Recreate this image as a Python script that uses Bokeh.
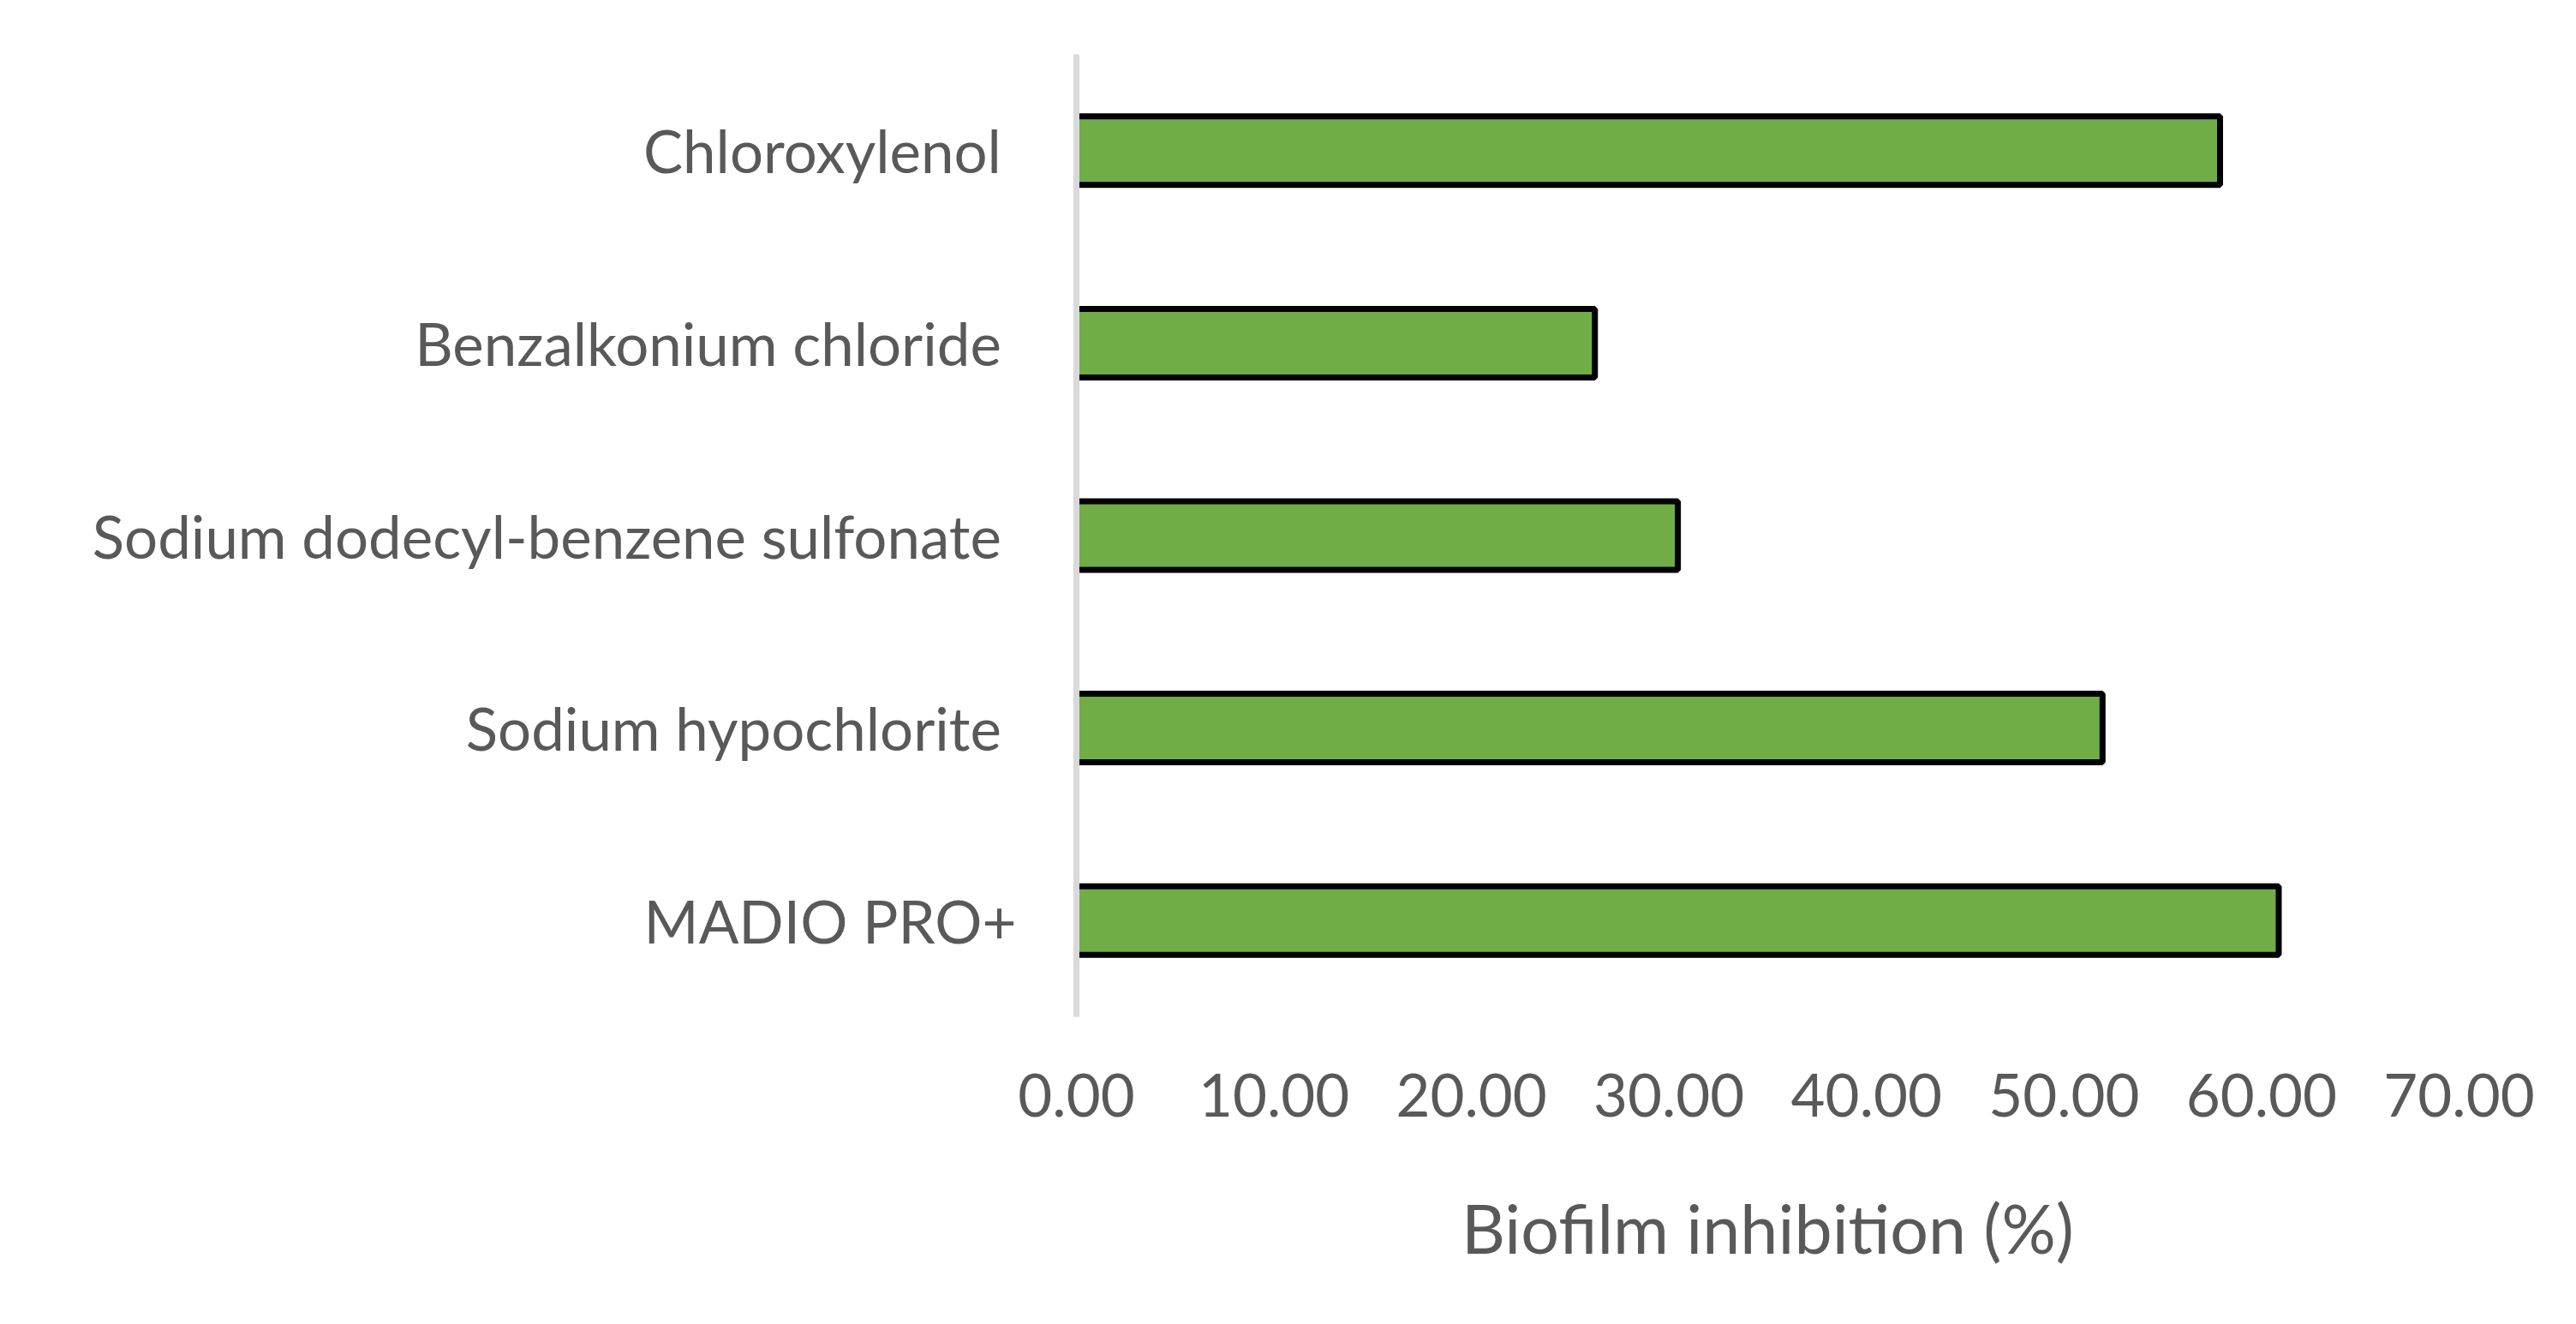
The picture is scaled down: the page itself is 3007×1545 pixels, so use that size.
from bokeh.plotting import figure
from bokeh.models import FactorRange, Range1d, FixedTicker, NumeralTickFormatter, Span, ColumnDataSource
from bokeh.embed import file_html
from bokeh.resources import INLINE

# Data (bottom to top, as drawn)
categories = ["MADIO PRO+", "Sodium hypochlorite", "Sodium dodecyl-benzene sulfonate",
              "Benzalkonium chloride", "Chloroxylenol"]
labels = ["MADIO PRO+", "Sodium hypochlorite\u00a0", "Sodium dodecyl-benzene sulfonate\u00a0",
          "Benzalkonium chloride\u00a0", "Chloroxylenol\u00a0"]
inhibition = [60.87, 51.95, 30.45, 26.25, 57.9]
x_ticks = [0, 10, 20, 30, 40, 50, 60, 70]
x_title = "Biofilm inhibition (%)"

FONT = "Lato"
TXT = "#595959"

src = ColumnDataSource(dict(cat=labels, val=inhibition))

p = figure(width=2999, height=1537, output_backend="svg", toolbar_location=None,
           y_range=FactorRange(factors=labels, range_padding=0),
           x_range=Range1d(0, 70),
           min_border_left=1256, min_border_right=129, min_border_top=63, min_border_bottom=351)

p.hbar(y="cat", left=0, right="val", height=0.356, source=src,
       fill_color="#70AD47", line_color="black", line_width=7)

p.add_layout(Span(location=0, dimension="height", line_color="#D9D9D9", line_width=7))

p.outline_line_color = None
p.xgrid.grid_line_color = None
p.ygrid.grid_line_color = None
p.background_fill_color = "white"
p.border_fill_color = "white"

xa = p.xaxis[0]
xa.ticker = FixedTicker(ticks=x_ticks)
xa.formatter = NumeralTickFormatter(format="0.00")
xa.axis_line_color = None
xa.major_tick_line_color = None
xa.minor_tick_line_color = None
xa.major_tick_out = 0
xa.major_label_standoff = 66
xa.major_label_text_font = FONT
xa.major_label_text_font_size = "69px"
xa.major_label_text_color = TXT
xa.axis_label = x_title
xa.axis_label_text_font = FONT
xa.axis_label_text_font_size = "79px"
xa.axis_label_text_font_style = "normal"
xa.axis_label_text_color = TXT
xa.axis_label_standoff = 79

ya = p.yaxis[0]
ya.axis_line_color = "#D9D9D9"
ya.axis_line_width = 7
ya.major_tick_line_color = None
ya.minor_tick_line_color = None
ya.major_tick_out = 0
ya.major_label_standoff = 70
ya.major_label_text_font = FONT
ya.major_label_text_font_size = "69px"
ya.major_label_text_color = TXT

open("out.html", "w").write(file_html(p, INLINE))
